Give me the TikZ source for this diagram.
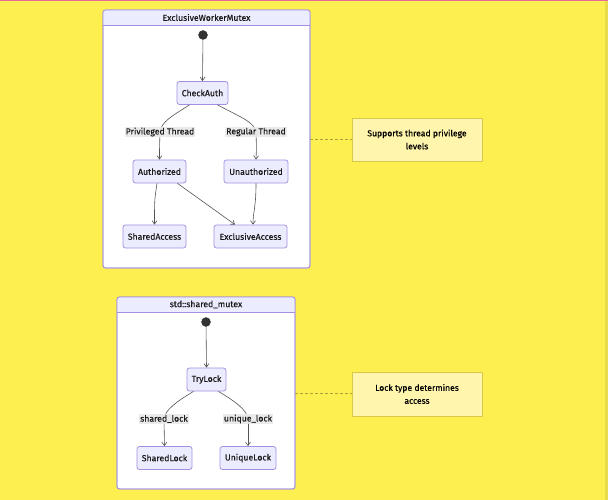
\documentclass[tikz,border=0pt]{standalone}
\usepackage{fontspec}
\setmainfont{Fira Sans}[FakeBold=0.35]
\usetikzlibrary{arrows.meta}
\definecolor{bgyel}{HTML}{FDEF50}
\definecolor{pinkline}{HTML}{E86A9A}
\definecolor{stfill}{HTML}{ECECFF}
\definecolor{stline}{HTML}{A48FE0}
\definecolor{notefill}{HTML}{FFF5AD}
\definecolor{noteline}{HTML}{D8C94A}
\definecolor{lblbg}{HTML}{E8E8E8}
\definecolor{txt}{HTML}{1A1A1A}
\definecolor{edge}{HTML}{555555}
\tikzset{
  statebox/.style={draw=stline, fill=stfill, line width=0.8pt, rounded corners=2.5pt,
    minimum height=23, inner sep=0pt, text=txt, font=\fontsize{8.7}{10}\selectfont},
  cluster/.style={draw=stline, fill=white, line width=0.8pt, rounded corners=2.5pt},
  elabel/.style={fill=lblbg, fill opacity=0.9, text opacity=1, text=txt, inner sep=1pt,
    font=\fontsize{8.7}{10}\selectfont},
  notebox/.style={draw=noteline, fill=notefill, line width=0.8pt, text=black, align=center,
    font=\fontsize{8.6}{13}\selectfont, inner sep=0pt},
  conn/.style={draw=edge, line width=0.6pt, -{Straight Barb[length=3.5pt,width=5pt]}},
  plain/.style={draw=edge, line width=0.6pt},
  notelink/.style={draw=noteline!80!black, dash pattern=on 3pt off 2pt, line width=0.6pt},
  startdot/.style={circle, fill=black!80, draw=black!80, minimum size=9pt, inner sep=0pt},
  ctitle/.style={text=txt, font=\fontsize{8.7}{10}\selectfont}
}
\begin{document}
\begin{tikzpicture}[x=1pt,y=-1pt]
\useasboundingbox (0,0) rectangle (608,500);
\fill[bgyel] (0,0) rectangle (608,500);
\fill[bgyel!92!black] (605,0) rectangle (608,500);
\fill[pinkline] (0,0) rectangle (608,1.5);

% ---- cluster 1
\draw[cluster] (103,10) rectangle (310,268);
\begin{scope}
\clip[rounded corners=2.5pt] (103,10) rectangle (310,40);
\fill[stfill] (103,10) rectangle (310,25);
\end{scope}
\draw[stline, line width=0.8pt, rounded corners=2.5pt] (103,10) rectangle (310,268);
\draw[stline, line width=0.8pt] (103,25) -- (310,25);
\node[ctitle] (t1) at (206.5,17.5) {ExclusiveWorkerMutex};

\node[startdot] (s1) at (203,35) {};
\node[statebox, minimum width=51] (ca) at (202.5,93) {CheckAuth};
\node[statebox, minimum width=53] (au) at (159.5,171.5) {Authorized};
\node[statebox, minimum width=64] (un) at (256,171.5) {Unauthorized};
\node[statebox, minimum width=63] (sa) at (154.5,236.5) {SharedAccess};
\node[statebox, minimum width=73] (ea) at (250.5,236.5) {ExclusiveAccess};

\coordinate (lp) at (160,132);
\coordinate (lr) at (256,132);

\draw[conn] (s1) -- (ca.north);
\draw[plain] ([xshift=-13pt]ca.south) .. controls (172,116) and (161,122) .. (lp);
\draw[conn] (lp) .. controls (159.5,148) .. (au.north);
\draw[plain] ([xshift=15pt]ca.south) .. controls (238,116) and (255,122) .. (lr);
\draw[conn] (lr) .. controls (256.5,148) .. (un.north);
\draw[conn] ([xshift=-2.5pt]au.south) .. controls (154.5,200) .. (sa.north);
\draw[conn] ([xshift=18pt]au.south) -- ([xshift=-15.5pt]ea.north);
\draw[conn] (un.south) .. controls (256,208) and (253,212) .. ([xshift=2.5pt]ea.north);

\node[elabel] (lpn) at (lp) {Privileged Thread};
\node[elabel] (lrn) at (lr) {Regular Thread};

\node[notebox, minimum width=130, minimum height=43] (n1) at (417,139.5) {Supports thread privilege\\levels};
\coordinate (c1r) at (310,139.5);
\draw[notelink] (c1r) -- (n1.west);

% ---- cluster 2
\draw[cluster] (117,297) rectangle (295,489);
\begin{scope}
\clip[rounded corners=2.5pt] (117,297) rectangle (295,330);
\fill[stfill] (117,297) rectangle (295,312);
\end{scope}
\draw[stline, line width=0.8pt, rounded corners=2.5pt] (117,297) rectangle (295,489);
\draw[stline, line width=0.8pt] (117,312) -- (295,312);
\node[ctitle] (t2) at (206,304.5) {std::shared\_mutex};

\node[startdot] (s2) at (206,322) {};
\node[statebox, minimum width=39] (tl) at (206.5,379.5) {TryLock};
\node[statebox, minimum width=55] (sl) at (164.5,458) {SharedLock};
\node[statebox, minimum width=56] (ul) at (248,458) {UniqueLock};

\coordinate (ls) at (164,419);
\coordinate (lu) at (248,419);

\draw[conn] (s2) -- (tl.north);
\draw[plain] ([xshift=-13pt]tl.south) .. controls (176,402) and (165,410) .. (ls);
\draw[conn] (ls) .. controls (164,432) .. (sl.north);
\draw[plain] ([xshift=12pt]tl.south) .. controls (236,402) and (247,410) .. (lu);
\draw[conn] (lu) .. controls (248,432) .. (ul.north);

\node[elabel] (lsn) at (ls) {shared\_lock};
\node[elabel] (lun) at (lu) {unique\_lock};

\node[notebox, minimum width=130, minimum height=44] (n2) at (417,394) {Lock type determines\\access};
\coordinate (c2r) at (295,393);
\draw[notelink] (c2r) -- (n2.west |- c2r);
\end{tikzpicture}
\end{document}
